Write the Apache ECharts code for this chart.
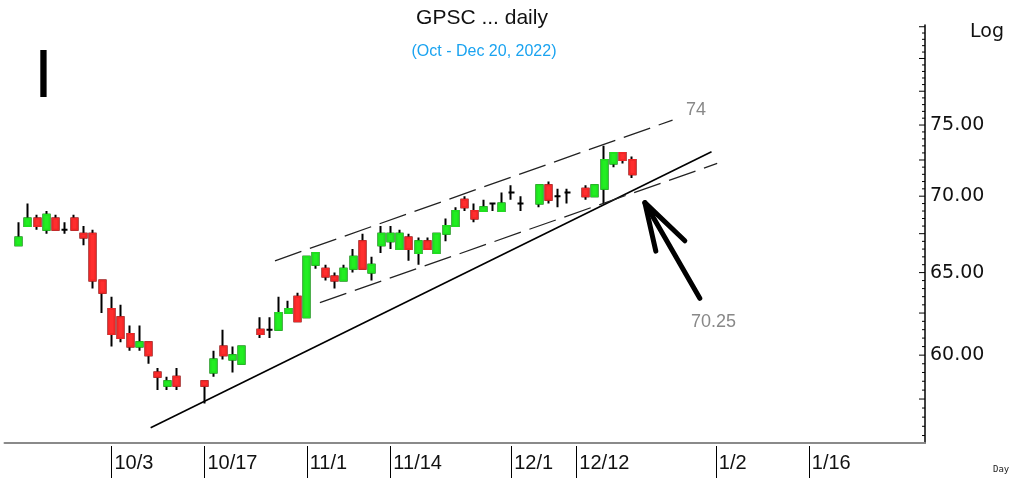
<!DOCTYPE html>
<html>
<head>
<meta charset="utf-8">
<script src="https://cdn.jsdelivr.net/npm/echarts@6/dist/echarts.min.js"></script>
<style>
    html, body { margin: 0; padding: 0; background: #fff; }
    #chart { width: 1015px; height: 480px; }
</style>
</head>
<body>
<div id="chart"></div>
<script>
// trading-day axis (weekdays), 9/16/2022 .. 2/1/2023
var days = [
    '9/16',
    '9/19', '9/20', '9/21', '9/22', '9/23', '9/26', '9/27', '9/28', '9/29', '9/30',
    '10/3', '10/4', '10/5', '10/6', '10/7', '10/10', '10/11', '10/12', '10/13', '10/14',
    '10/17', '10/18', '10/19', '10/20', '10/21', '10/24', '10/25', '10/26', '10/27', '10/28',
    '10/31', '11/1', '11/2', '11/3', '11/4', '11/7', '11/8', '11/9', '11/10', '11/11',
    '11/14', '11/15', '11/16', '11/17', '11/18', '11/21', '11/22', '11/23', '11/24', '11/25',
    '11/28', '11/29', '11/30', '12/1', '12/2', '12/5', '12/6', '12/7', '12/8', '12/9',
    '12/12', '12/13', '12/14', '12/15', '12/16', '12/19', '12/20', '12/21', '12/22', '12/23',
    '12/26', '12/27', '12/28', '12/29', '12/30', '1/2', '1/3', '1/4', '1/5', '1/6',
    '1/9', '1/10', '1/11', '1/12', '1/13', '1/16', '1/17', '1/18', '1/19', '1/20',
    '1/23', '1/24', '1/25', '1/26', '1/27', '1/30', '1/31', '2/1'
];
var labelDays = ['10/3', '10/17', '11/1', '11/14', '12/1', '12/12', '1/2', '1/16'];

// daily prices from 9/19 (null = market holiday)
var openP = [66.75, 68.0, 68.5, 67.75, 68.5, 67.75, 68.5, 67.5, 67.5, 64.5,
    62.75, 62.25, 61.25, 60.5, 60.75, 59.0, 58.25, 58.75, null, null,
    58.5, 59.0, 60.5, 59.75, 59.5, null, 61.5, 61.5, 61.5, 62.5,
    63.5, 62.25, 65.5, 65.25, 64.75, 64.5, 65.25, 67.0, 65.0, 66.75,
    67.0, 66.5, 67.25, 66.25, 67.0, 66.25, 67.5, 68.0, 69.75, 69.0,
    69.0, 69.5, 69.0, 70.25, 69.5, null, 69.5, 70.75, 70.0, 70.25,
    null, 70.5, 70.0, 70.5, 72.25, 73.0, 72.5];
var closeP = [67.25, 68.5, 68.0, 68.75, 67.75, 67.75, 67.75, 67.25, 64.5, 63.75,
    61.25, 61.0, 60.5, 60.75, 60.0, 58.75, 58.5, 58.25, null, null,
    58.25, 59.75, 60.0, 60.0, 60.5, null, 61.25, 61.5, 62.5, 62.75,
    62.0, 66.0, 66.25, 64.75, 64.5, 65.25, 66.0, 65.25, 65.5, 67.5,
    67.5, 67.5, 66.5, 67.0, 66.5, 67.5, 68.0, 69.0, 69.25, 68.5,
    69.25, 69.5, 69.5, 70.25, 69.5, null, 70.75, 69.75, 70.0, 70.25,
    null, 70.0, 70.75, 72.5, 73.0, 72.5, 71.5];
var lowP = [66.75, 68.0, 67.75, 67.5, 67.75, 67.5, 67.75, 66.75, 64.0, 62.5,
    60.5, 60.75, 60.25, 60.25, 59.5, 58.0, 58.0, 58.0, null, null,
    57.25, 58.75, 59.75, 59.0, 59.5, null, 61.0, 61.0, 61.5, 62.5,
    62.0, 62.25, 65.25, 64.5, 64.0, 64.5, 65.0, 65.25, 64.5, 66.25,
    66.5, 66.5, 65.75, 65.5, 66.5, 66.25, 67.0, 68.0, 69.0, 68.25,
    69.0, 69.0, 69.0, 69.75, 69.0, null, 69.25, 69.5, 69.25, 69.5,
    null, 69.75, 70.0, 69.5, 72.0, 72.25, 71.25];
var highP = [68.25, 69.5, 68.75, 69.0, 68.75, 68.25, 68.75, 68.0, 67.75, 64.5,
    63.5, 63.0, 61.75, 61.75, 60.75, 59.25, 58.75, 59.25, null, null,
    58.5, 60.25, 61.5, 60.5, 60.5, null, 62.25, 62.25, 63.5, 63.25,
    63.75, 66.0, 66.25, 65.5, 65.0, 65.5, 66.5, 67.5, 66.0, 68.0,
    68.0, 67.75, 67.5, 67.25, 67.25, 67.5, 68.5, 69.25, 70.0, 69.5,
    69.75, 69.5, 70.25, 70.75, 70.0, null, 70.75, 71.0, 70.5, 70.5,
    null, 70.75, 70.75, 73.5, 73.0, 73.0, 72.75];

// price scale labels (log axis)
var priceLabels = [60, 65, 70, 75];

// drawn lines: [day index, price]
var supportLine = [[15.22, 55.92], [75.54, 73.08]];
var channelTop = [[28.59, 65.75], [71.35, 75.36]];
var channelBottom = [[33.42, 63.13], [76.15, 72.26]];
var arrowShaft = [[74.28, 63.40], [68.37, 69.56]];
var arrowHead = [[72.67, 67.04], [68.37, 69.56], [69.55, 66.37]];

var yMin = 55.1, yMax = 82.64;

var wickData = ['-'];
var bodyData = ['-'];
for (var i = 0; i < openP.length; i++) {
    if (openP[i] == null) {
        wickData.push('-');
        bodyData.push('-');
        continue;
    }
    wickData.push([openP[i], closeP[i], lowP[i], highP[i]]);
    if (openP[i] === closeP[i]) {
        bodyData.push('-');
    } else {
        bodyData.push([openP[i], closeP[i], Math.min(openP[i], closeP[i]), Math.max(openP[i], closeP[i])]);
    }
}

var tickData = [];
for (var t = 55.5; t <= 82.5; t += 0.5) {
    tickData.push([98.5, t]);
}

var dayTickData = labelDays.map(function (d) { return [days.indexOf(d), yMin]; });

function showDay(index, value) {
    return labelDays.indexOf(value) >= 0;
}

function lineSeries(points, style) {
    return {
        type: 'line',
        xAxisIndex: 1,
        yAxisIndex: 0,
        data: points,
        symbol: 'none',
        silent: true,
        lineStyle: style,
        z: 5
    };
}

var chart = echarts.init(document.getElementById('chart'));
var option = {
    animation: false,
    backgroundColor: '#ffffff',
    grid: { left: 4.5, right: 90, top: 25, bottom: 37 },
    xAxis: [
        {
            type: 'category',
            data: days,
            boundaryGap: true,
            axisLine: { onZero: false, lineStyle: { color: '#8a8a8a', width: 2 } },
            axisTick: { show: false },
            axisLabel: {
                interval: showDay,
                align: 'left',
                verticalAlign: 'top',
                margin: 10,
                padding: [0, 0, 0, 3],
                color: '#111',
                fontSize: 20,
                fontFamily: '"Liberation Sans Narrow", "Arial Narrow", "Liberation Sans", sans-serif'
            },
            splitLine: { show: false }
        },
        {
            type: 'value',
            min: -0.5,
            max: 98.5,
            show: false
        }
    ],
    yAxis: {
        type: 'log',
        logBase: 10,
        min: yMin,
        max: yMax,
        position: 'right',
        axisLine: { show: true, onZero: false, lineStyle: { color: '#000', width: 1.5 } },
        axisTick: { show: false },
        axisLabel: { show: false },
        splitLine: { show: false }
    },
    series: [
        {
            name: 'wick',
            type: 'candlestick',
            data: wickData,
            barWidth: 6.5,
            silent: true,
            itemStyle: {
                color: '#000', color0: '#000',
                borderColor: '#000', borderColor0: '#000', borderColorDoji: '#000',
                borderWidth: 2
            },
            z: 2
        },
        {
            name: 'body',
            type: 'candlestick',
            data: bodyData,
            barWidth: 6.5,
            silent: true,
            itemStyle: {
                color: '#22ee22', color0: '#ff2e2e',
                borderColor: '#1fe01f', borderColor0: '#f02626',
                borderWidth: 2
            },
            z: 3
        },
        lineSeries(supportLine, { color: '#000', width: 1.6 }),
        lineSeries(channelTop, { color: '#222', width: 1.3, type: [28, 9] }),
        lineSeries(channelBottom, { color: '#222', width: 1.3, type: [28, 9] }),
        lineSeries(arrowShaft, { color: '#000', width: 5, cap: 'round' }),
        lineSeries(arrowHead, { color: '#000', width: 5, cap: 'round', join: 'round' }),
        {
            // right price-scale ticks
            type: 'custom',
            xAxisIndex: 1,
            yAxisIndex: 0,
            silent: true,
            clip: false,
            data: tickData,
            renderItem: function (params, api) {
                var p = api.value(1);
                var pt = api.coord([api.value(0), p]);
                var len = (Math.abs(p / 2.5 - Math.round(p / 2.5)) < 0.001) ? 6 : 3;
                return {
                    type: 'line',
                    shape: { x1: pt[0] - len, y1: pt[1], x2: pt[0], y2: pt[1] },
                    style: { stroke: '#000', lineWidth: 1 }
                };
            }
        },
        {
            // right price-scale labels
            type: 'custom',
            xAxisIndex: 1,
            yAxisIndex: 0,
            silent: true,
            clip: false,
            data: priceLabels.map(function (p) { return [98.5, p]; }),
            renderItem: function (params, api) {
                var p = api.value(1);
                var pt = api.coord([api.value(0), p]);
                return {
                    type: 'text',
                    x: pt[0] + 5,
                    y: pt[1],
                    style: {
                        text: p.toFixed(2),
                        fill: '#111',
                        font: '19px "DejaVu Sans"',
                        align: 'left',
                        verticalAlign: 'middle'
                    }
                };
            }
        },
        {
            // date separators under the time axis
            type: 'custom',
            xAxisIndex: 1,
            yAxisIndex: 0,
            silent: true,
            clip: false,
            data: dayTickData,
            renderItem: function (params, api) {
                var pt = api.coord([api.value(0), api.value(1)]);
                var x = Math.round(pt[0]) + 0.5;
                return {
                    type: 'line',
                    shape: { x1: x, y1: pt[1] + 3, x2: x, y2: pt[1] + 35 },
                    style: { stroke: '#000', lineWidth: 1 }
                };
            }
        }
    ],
    graphic: [
        {
            type: 'text', x: 482, y: 8,
            style: { text: 'GPSC ... daily', fill: '#111', font: '21px "Liberation Sans"', align: 'center' }
        },
        {
            type: 'text', x: 484, y: 44,
            style: { text: '(Oct - Dec 20, 2022)', fill: '#1aa3f0', font: '16px "Liberation Sans"', align: 'center' }
        },
        {
            type: 'text', x: 34, y: 44,
            style: { text: 'I', fill: '#000', font: '68px "Liberation Sans"' }
        },
        {
            type: 'text', x: 970, y: 23,
            style: { text: 'Log', fill: '#111', font: '19px "DejaVu Sans"' }
        },
        {
            type: 'text', x: 993, y: 465,
            style: { text: 'Day', fill: '#222', font: '9px "DejaVu Sans Mono"' }
        },
        {
            type: 'text', x: 686, y: 101,
            style: { text: '74', fill: '#888', font: '18px "Liberation Sans"' }
        },
        {
            type: 'text', x: 691, y: 313,
            style: { text: '70.25', fill: '#888', font: '18px "Liberation Sans"' }
        }
    ]
};
chart.setOption(option);
</script>
</body>
</html>
